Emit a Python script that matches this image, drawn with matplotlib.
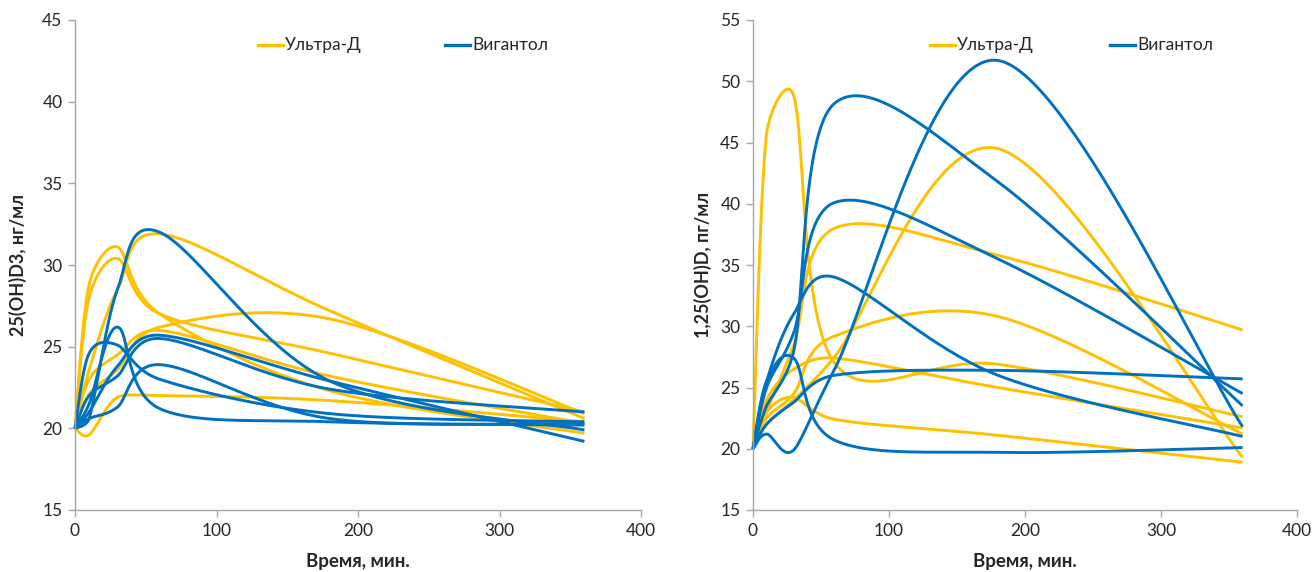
import numpy as np
import matplotlib
matplotlib.use("Agg")
import matplotlib.pyplot as plt
from matplotlib.lines import Line2D

plt.rcParams['font.family'] = ['Lato', 'DejaVu Sans']

# sampling times, min
T = [0, 10, 30, 60, 180, 360]

# Left panel: 25(OH)D3, ng/ml
left_ultra = [
    [20, 28.8, 31.1, 27.0, 22.3, 19.7],
    [20, 28.0, 30.4, 27.0, 24.6, 21.0],
    [20, 23.6, 28.5, 31.9, 27.2, 20.6],
    [20, 22.1, 23.6, 26.2, 26.7, 20.9],
    [20, 19.6, 21.9, 22.0, 21.7, 20.4],
    [20, 23.0, 24.5, 26.0, 23.2, 20.3],
]
left_vig = [
    [20, 20.6, 28.5, 32.0, 22.9, 19.9],
    [20, 21.5, 26.2, 21.2, 20.4, 20.2],
    [20, 24.6, 25.1, 23.0, 20.9, 20.4],
    [20, 21.0, 23.8, 25.7, 22.9, 19.2],
    [20, 22.0, 23.2, 25.5, 22.4, 21.0],
    [20, 20.6, 21.3, 23.9, 20.6, 20.3],
]

# Right panel: 1,25(OH)D, pg/ml
right_ultra = [
    [20, 45.7, 48.8, 27.0, 26.9, 22.6],
    [20, 22.0, 24.0, 27.5, 44.5, 19.3],
    [20, 23.0, 28.5, 38.0, 35.8, 29.7],
    [20, 22.5, 24.5, 29.2, 30.8, 21.2],
    [20, 24.0, 26.5, 27.4, 25.0, 21.7],
    [20, 23.0, 24.2, 22.4, 21.1, 18.9],
]
right_vig = [
    [20, 21.2, 19.9, 26.5, 51.7, 21.8],
    [20, 23.5, 28.0, 48.2, 41.8, 23.5],
    [20, 25.0, 29.5, 40.1, 35.5, 24.5],
    [20, 25.5, 31.0, 34.0, 26.0, 21.0],
    [20, 25.5, 27.4, 20.7, 19.7, 20.1],
    [20, 22.0, 23.8, 26.0, 26.4, 25.7],
]

labels = ['Ультра-Д', 'Вигантол']
ylabels = ['25(OH)D3, нг/мл', '1,25(OH)D, пг/мл']
xlabel = 'Время, мин.'
YELLOW = '#FFC000'
BLUE = '#0070C0'
GRAY = '#A6A6A6'
TXT = '#262626'


def smooth(ax, x, y, n=60):
    """Excel-style smoothed line (Bezier with capped handles) in pixel space."""
    P = ax.transData.transform(np.column_stack([x, y]).astype(float))
    out = []
    m = len(P)
    for i in range(m - 1):
        p0 = P[i - 1] if i > 0 else P[i]
        p1 = P[i]
        p2 = P[i + 1]
        p3 = P[i + 2] if i + 2 < m else P[i + 1]
        d12 = np.hypot(*(p2 - p1))
        d02 = np.hypot(*(p2 - p0))
        d13 = np.hypot(*(p3 - p1))
        big1 = d02 / 6 >= d12 / 2
        big2 = d13 / 6 >= d12 / 2
        if not big1 and not big2:
            f1 = f2 = 1 / 6
        elif big1 and big2:
            f1 = d12 / 2 / d02
            f2 = d12 / 2 / d13
        elif big1:
            f1 = d12 / 2 / d02
            f2 = f1
        else:
            f2 = d12 / 2 / d13
            f1 = f2
        c1 = p1 + (p2 - p0) * f1
        c2 = p2 - (p3 - p1) * f2
        s = np.linspace(0, 1, n)[:, None]
        if i > 0:
            s = s[1:]
        seg = ((1 - s) ** 3) * p1 + 3 * ((1 - s) ** 2) * s * c1 + 3 * (1 - s) * s ** 2 * c2 + s ** 3 * p2
        out.append(seg)
    pts = np.vstack(out)
    d = ax.transData.inverted().transform(pts)
    return d[:, 0], d[:, 1]


fig = plt.figure(figsize=(13.12, 5.72), dpi=100)
W, H = 1312, 572
panels = [
    (left_ultra, left_vig, (75, 641), (15, 45), ylabels[0], 18, (258, 445)),
    (right_ultra, right_vig, (753, 1297), (15, 55), ylabels[1], 703, (930, 1110)),
]

for ultra, vig, (x0, x1), (ylo, yhi), ylab, ylx, (lx1, lx2) in panels:
    ax = fig.add_axes([x0 / W, 1 - 510 / H, (x1 - x0) / W, (510 - 20) / H])
    ax.set_xlim(0, 400)
    ax.set_ylim(ylo, yhi)
    ax.set_xticks(np.arange(0, 401, 100))
    ax.set_yticks(np.arange(ylo, yhi + 1, 5))
    for sp in ['top', 'right']:
        ax.spines[sp].set_visible(False)
    for sp in ['left', 'bottom']:
        ax.spines[sp].set_color(GRAY)
        ax.spines[sp].set_linewidth(1.0)
    ax.tick_params(colors=GRAY, labelcolor=TXT, labelsize=12.5, length=5, width=1.0,
                   direction='out', pad=4)
    for series, col in [(ultra, YELLOW), (vig, BLUE)]:
        for ys in series:
            sx, sy = smooth(ax, T, ys)
            ax.plot(sx, sy, color=col, lw=2.1, solid_capstyle='butt', clip_on=False)
    ax.set_ylabel(ylab, fontsize=13, fontweight='bold', color=TXT)
    ax.yaxis.set_label_coords((ylx - x0) / (x1 - x0), 0.5)
    ax.set_xlabel(xlabel, fontsize=13.5, fontweight='bold', color=TXT)
    ax.xaxis.set_label_coords(0.5, (510 - 561) / 490)
    ax.xaxis.label.set_va('center')
    ax.yaxis.label.set_va('center')
    # legend drawn manually in figure pixel coordinates
    ly = 1 - 45 / H
    for lx, col, lab in [(lx1, YELLOW, labels[0]), (lx2, BLUE, labels[1])]:
        fig.add_artist(Line2D([lx / W, (lx + 25) / W], [ly, ly], color=col, lw=2.4,
                              transform=fig.transFigure))
        fig.text((lx + 27) / W, ly, lab, fontsize=12.5, color=TXT, va='center', ha='left')

fig.savefig('out.png', dpi=100)
